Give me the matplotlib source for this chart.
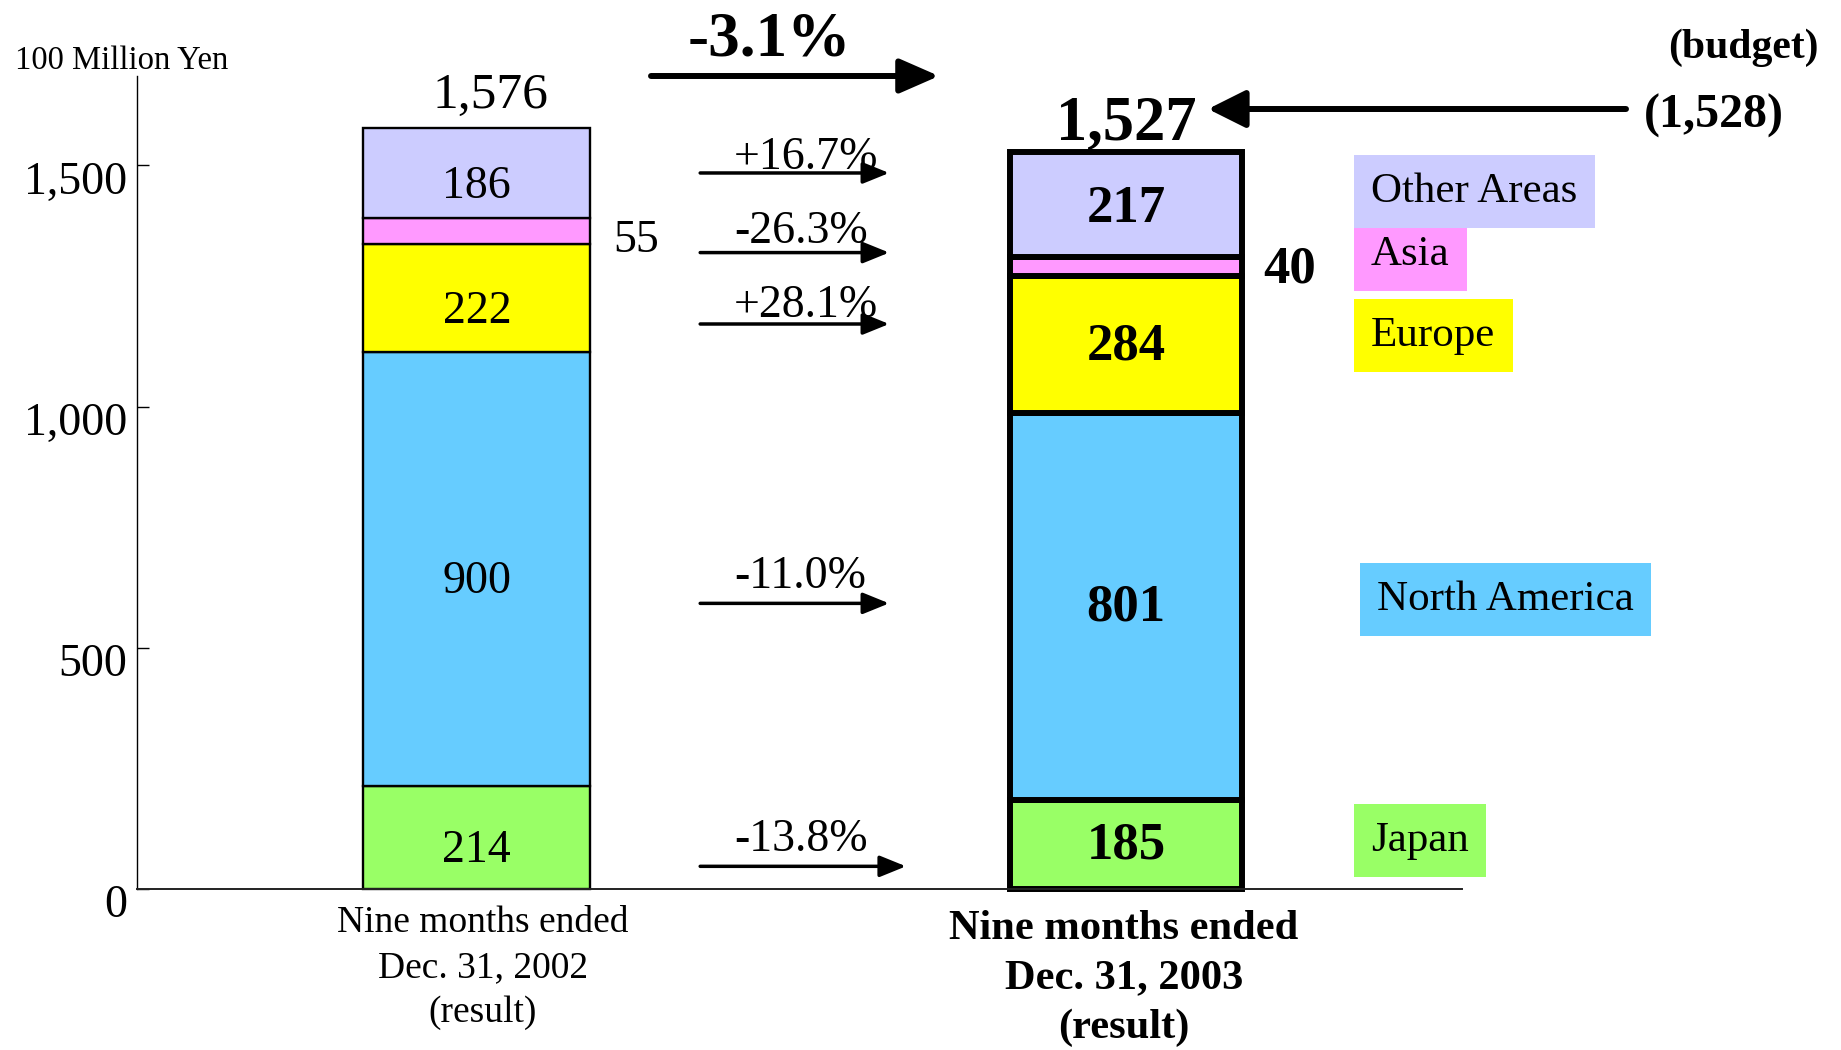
import matplotlib
matplotlib.use('Agg')
import matplotlib.pyplot as plt
from matplotlib.transforms import ScaledTranslation
import numpy as np

plt.rcParams['font.family'] = ['Liberation Serif', 'DejaVu Serif']

# ---------------- data ----------------
categories = ['Nine months ended\nDec. 31, 2002\n(result)',
              'Nine months ended\nDec. 31, 2003\n(result)']
regions = ['Japan', 'North America', 'Europe', 'Asia', 'Other Areas']
sales_2002 = [214, 900, 222, 55, 186]
sales_2003 = [185, 801, 284, 40, 217]
total_labels = ['1,576', '1,527']
change_labels = ['-13.8%', '-11.0%', '+28.1%', '-26.3%', '+16.7%']
total_change = '-3.1%'
budget_label = '(budget)'
budget_value = '(1,528)'
unit_label = '100 Million Yen'
yticks = [0, 500, 1000, 1500]
ytick_labels = ['0', '500', '1,000', '1,500']

# ---------------- style ----------------
colors = ['#99FF66', '#66CCFF', '#FFFF00', '#FF99FF', '#CCCCFF']
change_arrow_y = [47, 592, 1171, 1319, 1484]      # annotation layout (data units)
change_text_y = [112, 657, 1219, 1372, 1526]
legend_y = [100, 600, 1147, 1314, 1445]

W, H = 1841, 1050
fig = plt.figure(figsize=(W / 100, H / 100), dpi=100)

def fxy(px, py):
    return (px / W, 1 - py / H)

ax = fig.add_axes([137 / W, 1 - 889 / H, (1462 - 137) / W, (889 - 76) / H])
x = np.arange(len(categories))
widths = [0.35, 0.357]
ax.set_xlim(-0.5235, 1.5175)
ax.set_ylim(0, 1685)

series = np.array([sales_2002, sales_2003])  # shape (2,5)
lws = [1.7, 4.3]
bottoms = np.zeros(len(categories))
for i, reg in enumerate(regions):
    vals = series[:, i]
    bars = ax.bar(x, vals, widths, bottom=bottoms, color=colors[i],
                  edgecolor='black', linewidth=lws, zorder=2)
    for b in bars:
        b.set_clip_on(False)
    for j in range(len(categories)):
        mid = bottoms[j] + vals[j] / 2
        bold = (j == 1)
        if reg == 'Asia':
            ax.annotate(str(vals[j]), xy=(x[j] + widths[j] / 2, mid),
                        xytext=(16.5 if j == 0 else 15, -7 if j == 0 else -2),
                        textcoords='offset points', ha='left', va='center',
                        fontsize=33 if j == 0 else 38,
                        fontweight='bold' if bold else 'normal')
        else:
            off = -9.8 if j == 0 else (-3.0 if reg == 'Other Areas' else -1.0)
            ax.annotate(str(vals[j]), xy=(x[j], mid),
                        xytext=(0, off),
                        textcoords='offset points', ha='center', va='center',
                        fontsize=33 if j == 0 else 38,
                        fontweight='bold' if bold else 'normal')
    bottoms = bottoms + vals

# totals above bars
ax.annotate(total_labels[0], xy=(x[0], bottoms[0]), xytext=(10, 23),
            textcoords='offset points', ha='center', va='center', fontsize=37,
            annotation_clip=False)
ax.annotate(total_labels[1], xy=(x[1], bottoms[1]), xytext=(0, 19.7),
            textcoords='offset points', ha='center', va='center', fontsize=45,
            fontweight='bold', annotation_clip=False)

# change arrows between bars
for k, lab in enumerate(change_labels):
    x_end = 0.661 if k == 0 else 0.635
    ax.annotate('', xy=(x_end, change_arrow_y[k]), xytext=(0.344, change_arrow_y[k]),
                arrowprops=dict(arrowstyle='-|>,head_length=16,head_width=6.5',
                                lw=2.5, color='black', shrinkA=0, shrinkB=0,
                                mutation_scale=1))
    ax.annotate(lab, xy=(0.396, change_text_y[k]), xytext=(0, -3.3),
                textcoords='offset points', ha='left', va='center', fontsize=33)

# legend-like labels
for k, reg in enumerate(regions):
    lx = 1.387 if reg == 'North America' else 1.3775
    ax.text(lx, legend_y[k], reg, ha='left', va='center', fontsize=31,
            bbox=dict(boxstyle='square,pad=0.4', facecolor=colors[k], edgecolor='none'),
            clip_on=False, zorder=3)

# big total arrow and budget arrow (figure coordinates)
fig.text(*fxy(769, 41), total_change, ha='center', va='center', fontsize=45.5,
         fontweight='bold')
ax.annotate('', xy=fxy(939, 76), xytext=fxy(651, 76), xycoords='figure fraction',
            textcoords='figure fraction',
            arrowprops=dict(arrowstyle='-|>,head_length=24,head_width=10.5',
                            lw=4.3, color='black', shrinkA=0, shrinkB=0,
                            mutation_scale=1), annotation_clip=False)
ax.annotate('', xy=fxy(1208, 109), xytext=fxy(1626, 109), xycoords='figure fraction',
            textcoords='figure fraction',
            arrowprops=dict(arrowstyle='-|>,head_length=23,head_width=11.5',
                            lw=4.3, color='black', shrinkA=0, shrinkB=0,
                            mutation_scale=1), annotation_clip=False)
fig.text(*fxy(1743, 48), budget_label, ha='center', va='center', fontsize=30,
         fontweight='bold')
fig.text(*fxy(1714, 116), budget_value, ha='center', va='center', fontsize=34.5,
         fontweight='bold')
fig.text(*fxy(15, 61), unit_label, ha='left', va='center', fontsize=23.5)

# axes styling
for s in ['top', 'right']:
    ax.spines[s].set_visible(False)
ax.spines['left'].set_linewidth(1.0)
ax.spines['bottom'].set_linewidth(1.4)
ax.spines['bottom'].set_color('#222222')

ax.set_yticks(yticks)
ax.set_yticklabels(ytick_labels)
ax.tick_params(axis='y', direction='in', length=8.6, width=1, pad=7, labelsize=33)
for lab in ax.get_yticklabels():
    lab.set_transform(lab.get_transform() + ScaledTranslation(0, -0.12, fig.dpi_scale_trans))

ax.set_xticks(x)
ax.set_xticklabels(categories)
ax.tick_params(axis='x', length=0, pad=12)
xl = ax.get_xticklabels()
xl[0].set_fontsize(27)
xl[0].set_linespacing(1.4)
xl[0].set_transform(xl[0].get_transform() + ScaledTranslation(0.06, 0, fig.dpi_scale_trans))
xl[1].set_fontsize(30.6)
xl[1].set_fontweight('bold')
xl[1].set_linespacing(1.39)
xl[1].set_transform(xl[1].get_transform() + ScaledTranslation(-0.02, -0.04, fig.dpi_scale_trans))

fig.savefig('out.png', dpi=100)
